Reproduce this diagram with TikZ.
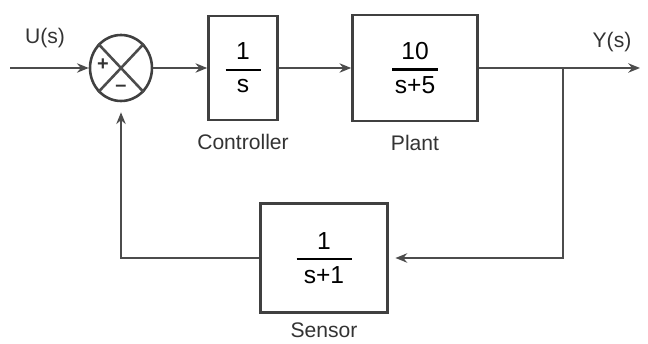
\documentclass[tikz,border=0pt]{standalone}
\usepackage{fontspec}
\setmainfont{Liberation Sans}
\usepackage{amsmath}
\usetikzlibrary{arrows.meta,positioning,shapes.geometric,calc}

\newcommand{\blkfrac}[3]{$\genfrac{}{}{1.8pt}{0}{\makebox[#1]{#2}}{\makebox[#1]{#3}}$}

\begin{document}
\begin{tikzpicture}[
  x=0.03cm, y=-0.03cm,
  font=\fontsize{18}{21}\selectfont,
  >={Stealth[length=10pt,width=8pt]},
  blk/.style={
    draw=black!75, line width=2.2pt,
    font=\fontsize{21}{25}\selectfont, inner sep=0pt
  },
  sumj/.style={
    ellipse, draw=black!75, line width=2.2pt,
    minimum width=1.86cm, minimum height=1.98cm, inner sep=0pt
  },
  lbl/.style={text=black!80, inner sep=2pt},
  sgn/.style={font=\bfseries\fontsize{17}{20}\selectfont, text=black!80, inner sep=0pt},
  wire/.style={black!70, line width=2.2pt},
  arr/.style={->, black!70, line width=2.2pt}
]
  \useasboundingbox (0,0) rectangle (648,344);

  % blocks
  \node[sumj] (sum) at (121,68) {};
  \node[blk, minimum width=2.07cm, minimum height=3.12cm] (ctrl) at (243,68)
    {\blkfrac{1.05cm}{1}{s}};
  \node[blk, minimum width=3.75cm, minimum height=3.18cm] (plant) at (415,68)
    {\blkfrac{1.38cm}{10}{s+5}};
  \node[blk, minimum width=3.81cm, minimum height=3.27cm] (sens) at (324,258)
    {\blkfrac{1.65cm}{1}{s+1}};

  % summing junction cross and signs
  \draw[wire] (sum.north west) -- (sum.south east);
  \draw[wire] (sum.north east) -- (sum.south west);
  \node[sgn] (plus) at ($(sum.center)+(-18,-3)$) {+};
  \node[sgn] (minus) at ($(sum.center)+(0,20)$) {--};

  % labels
  \node[lbl, below=0.3cm of ctrl] (ctrllbl) {Controller};
  \node[lbl, below=0.3cm of plant] (plantlbl) {Plant};
  \node[lbl, below=0.2cm of sens] (senslbl) {Sensor};
  \node[lbl] (ulbl) at (45,38) {U(s)};
  \node[lbl] (ylbl) at (612,42) {Y(s)};

  % signal path
  \coordinate (in) at (10,68);
  \coordinate (br) at (563,68);
  \coordinate (out) at (640,68);
  \draw[arr] (in) -- (sum.west);
  \draw[arr] (sum.east) -- (ctrl.west);
  \draw[arr] (ctrl.east) -- (plant.west);
  \draw[arr] (plant.east) -- (out);

  % feedback
  \draw[arr, shorten >=0.2cm] (br) |- (sens.east);
  \draw[arr, shorten >=0.3cm] (sens.west) -| (sum.south);
\end{tikzpicture}
\end{document}
